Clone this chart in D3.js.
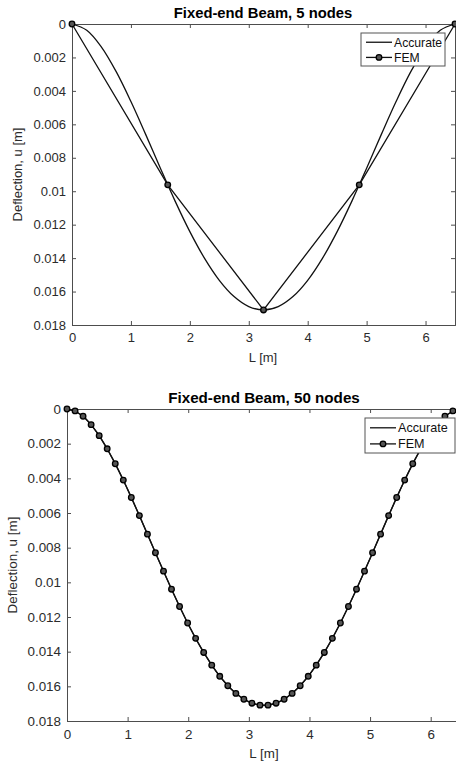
<!DOCTYPE html>
<html>
<head>
<meta charset="utf-8">
<script src="https://cdn.jsdelivr.net/npm/d3@7"></script>
<style>
  body { margin: 0; background: #fff; }
  svg { display: block; font-family: "Liberation Sans", Arial, sans-serif; }
</style>
</head>
<body>
<svg id="chart" width="456" height="762"></svg>
<script>
// accurate deflection, sampled along the beam (m)
const accX = [0, 0.25, 0.5, 0.75, 1, 1.25, 1.5, 1.75, 2, 2.25, 2.5, 2.75, 3, 3.25,
              3.5, 3.75, 4, 4.25, 4.5, 4.75, 5, 5.25, 5.5, 5.75, 6, 6.25, 6.5];
const accU = [0, 0.000374, 0.001379, 0.002851, 0.004637, 0.006601, 0.008622, 0.010591,
              0.012415, 0.014015, 0.015327, 0.0163, 0.016898, 0.0171,
              0.016898, 0.0163, 0.015327, 0.014015, 0.012415, 0.010591, 0.008622,
              0.006601, 0.004637, 0.002851, 0.001379, 0.000374, 0];

// FEM, 5 nodes
const fem5X = [0, 1.625, 3.25, 4.875, 6.5];
const fem5U = [0, 0.00962, 0.0171, 0.00962, 0];

// FEM, 50 nodes
const fem50X = [0, 0.133, 0.265, 0.398, 0.531, 0.663, 0.796, 0.929, 1.061, 1.194,
                1.327, 1.459, 1.592, 1.724, 1.857, 1.990, 2.122, 2.255, 2.388, 2.520,
                2.653, 2.786, 2.918, 3.051, 3.184, 3.316, 3.449, 3.582, 3.714, 3.847,
                3.980, 4.112, 4.245, 4.378, 4.510, 4.643, 4.776, 4.908, 5.041, 5.173,
                5.306, 5.439, 5.571, 5.704, 5.837, 5.969, 6.102, 6.235, 6.367, 6.5];
const fem50U = [0, 0.000109, 0.000419, 0.000904, 0.001538, 0.002297, 0.003159, 0.004102,
                0.005106, 0.006151, 0.007219, 0.008293, 0.009356, 0.010395, 0.011395,
                0.012345, 0.013231, 0.014045, 0.014778, 0.01542, 0.015966, 0.016409,
                0.016746, 0.016972, 0.017086, 0.017086, 0.016972, 0.016746, 0.016409,
                0.015966, 0.01542, 0.014778, 0.014045, 0.013231, 0.012345, 0.011395,
                0.010395, 0.009356, 0.008293, 0.007219, 0.006151, 0.005106, 0.004102,
                0.003159, 0.002297, 0.001538, 0.000904, 0.000419, 0.000109, 0];

const xTicks = [0, 1, 2, 3, 4, 5, 6];
const yTicks = [0, 0.002, 0.004, 0.006, 0.008, 0.01, 0.012, 0.014, 0.016, 0.018];
const legendNames = ["Accurate", "FEM"];

const svg = d3.select("#chart");
const axisColor = "#4d4d4d";
const lineColor = "#111";

function drawPanel(p) {
    const g = svg.append("g");
    const x = d3.scaleLinear().domain([0, 6.5]).range([p.left, p.right]);
    const y = d3.scaleLinear().domain([0, 0.018]).range([p.top, p.bottom]);
    const fs = p.fs;

    g.append("rect")
        .attr("x", p.left).attr("y", p.top)
        .attr("width", p.right - p.left).attr("height", p.bottom - p.top)
        .attr("fill", "#fff");

    // MATLAB style: ticks inward on all four sides
    const fmt = d => d === 0 ? "0" : String(+d.toFixed(3));
    const tl = 4;
    const bottomAx = g.append("g").attr("transform", `translate(0,${p.bottom})`)
        .call(d3.axisBottom(x).tickValues(xTicks).tickSize(-tl).tickPadding(8).tickFormat(d3.format("d")));
    const topAx = g.append("g").attr("transform", `translate(0,${p.top})`)
        .call(d3.axisTop(x).tickValues(xTicks).tickSize(-tl).tickFormat(""));
    const leftAx = g.append("g").attr("transform", `translate(${p.left},0)`)
        .call(d3.axisLeft(y).tickValues(yTicks).tickSize(-tl).tickPadding(6).tickFormat(fmt));
    const rightAx = g.append("g").attr("transform", `translate(${p.right},0)`)
        .call(d3.axisRight(y).tickValues(yTicks).tickSize(-tl).tickFormat(""));
    [bottomAx, topAx, leftAx, rightAx].forEach(a => {
        a.select(".domain").attr("stroke", axisColor).attr("stroke-width", 1);
        a.selectAll(".tick line").attr("stroke", axisColor);
        a.selectAll("text").attr("fill", "#2b2b2b").style("font-size", fs + "px");
    });

    const line = d3.line().x(d => x(d[0])).y(d => y(d[1]));
    const acc = accX.map((v, i) => [v, accU[i]]);
    const fem = p.femX.map((v, i) => [v, p.femU[i]]);

    g.append("path").datum(acc)
        .attr("d", line.curve(d3.curveCatmullRom))
        .attr("fill", "none").attr("stroke", lineColor).attr("stroke-width", 1.3);
    g.append("path").datum(fem)
        .attr("d", line.curve(d3.curveLinear))
        .attr("fill", "none").attr("stroke", lineColor).attr("stroke-width", 1.3);
    g.selectAll("circle.node").data(fem).join("circle")
        .attr("class", "node")
        .attr("cx", d => x(d[0])).attr("cy", d => y(d[1]))
        .attr("r", 2.8)
        .attr("fill", "#555").attr("stroke", "#000").attr("stroke-width", 1.3);

    // title and axis labels
    g.append("text").attr("x", p.titleX).attr("y", p.top - 6)
        .attr("text-anchor", "middle").attr("font-weight", "bold")
        .style("font-size", p.tfs + "px").attr("fill", "#000")
        .text(p.title);
    g.append("text").attr("x", p.titleX).attr("y", p.bottom + 37)
        .attr("text-anchor", "middle").style("font-size", fs + "px").attr("fill", "#2b2b2b")
        .text("L [m]");
    g.append("text")
        .attr("transform", `translate(${p.ylabX},${(p.top + p.bottom) / 2}) rotate(-90)`)
        .attr("text-anchor", "middle").style("font-size", fs + "px").attr("fill", "#2b2b2b")
        .text("Deflection, u [m]");

    // legend
    const L = p.legend;
    const lg = g.append("g");
    lg.append("rect").attr("x", L.x).attr("y", L.y).attr("width", L.w).attr("height", L.h)
        .attr("fill", "#fff").attr("stroke", "#555").attr("stroke-width", 1);
    legendNames.forEach((name, i) => {
        const ly = L.y + L.h * 0.28 + i * L.h * 0.46;
        lg.append("line").attr("x1", L.x + 5).attr("x2", L.x + 31)
            .attr("y1", ly).attr("y2", ly)
            .attr("stroke", lineColor).attr("stroke-width", 1.3);
        if (i === 1) {
            lg.append("circle").attr("cx", L.x + 18).attr("cy", ly).attr("r", 2.8)
                .attr("fill", "#555").attr("stroke", "#000").attr("stroke-width", 1.3);
        }
        lg.append("text").attr("x", L.x + 33).attr("y", ly)
            .attr("dy", "0.35em").style("font-size", p.lfs + "px").attr("fill", "#111")
            .text(name);
    });
}

drawPanel({
    left: 72, right: 455, top: 24, bottom: 325, fs: 13, tfs: 14.8, lfs: 12.2,
    title: "Fixed-end Beam, 5 nodes", titleX: 263, ylabX: 22,
    femX: fem5X, femU: fem5U,
    legend: { x: 361, y: 33, w: 84, h: 33 }
});
drawPanel({
    left: 67, right: 461, top: 409, bottom: 721, fs: 13.4, tfs: 15.2, lfs: 12.6,
    title: "Fixed-end Beam, 50 nodes", titleX: 264, ylabX: 17,
    femX: fem50X, femU: fem50U,
    legend: { x: 365, y: 418, w: 90, h: 35 }
});
</script>
</body>
</html>
